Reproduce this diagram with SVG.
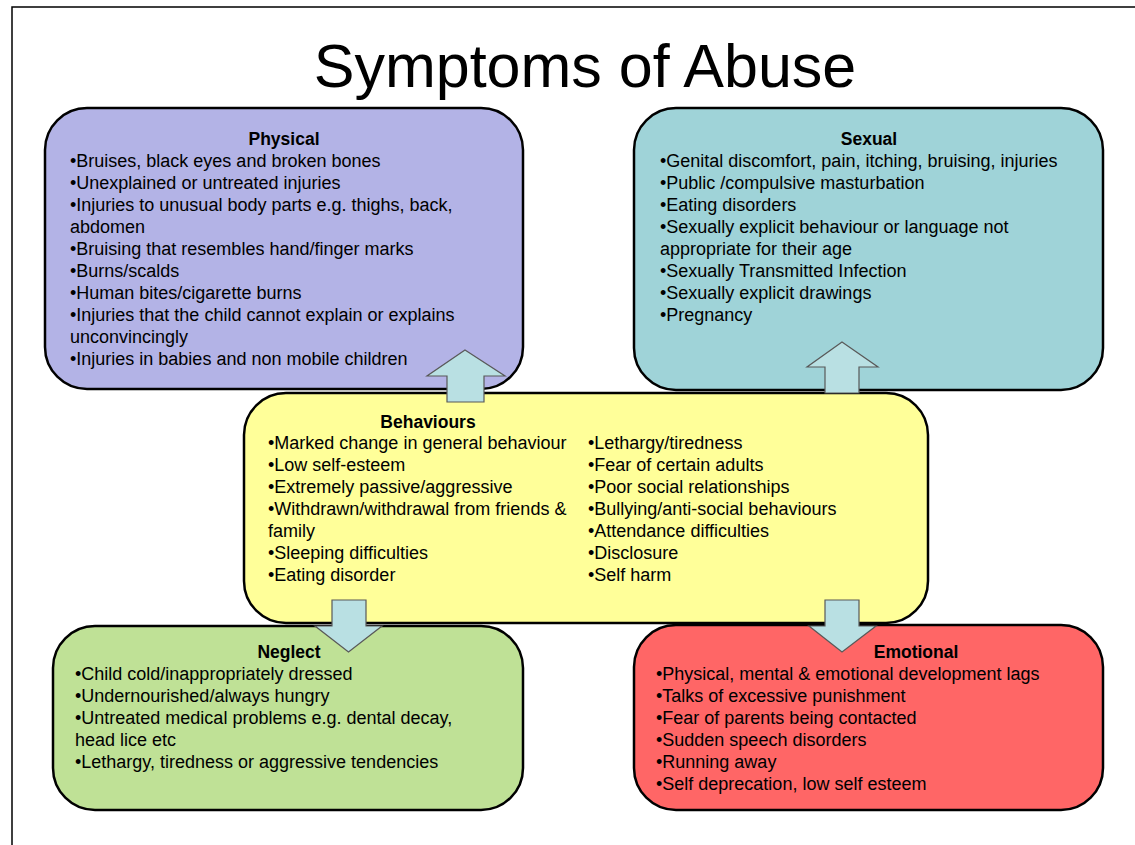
<svg xmlns="http://www.w3.org/2000/svg" width="1135" height="845" viewBox="0 0 1135 845">
<style>
.box{stroke:#000;stroke-width:2.5}
.t{font-family:"Liberation Sans",Arial,sans-serif;font-size:18px;fill:#000}
.h{font-family:"Liberation Sans",Arial,sans-serif;font-size:17.5px;font-weight:bold;fill:#000;text-anchor:middle}
.arr{fill:#B9E0E3;stroke:#595959;stroke-width:1.2}
</style>
<rect x="0" y="0" width="1135" height="845" fill="#fff"/>
<rect x="12" y="7" width="1140" height="860" fill="none" stroke="#000" stroke-width="1.5"/>
<text x="585" y="87" text-anchor="middle" font-family="Liberation Sans,Arial,sans-serif" font-size="61" fill="#000">Symptoms of Abuse</text>

<g id="physical">
<rect class="box" x="45" y="108" width="478" height="281" rx="42" fill="#B3B3E6"/>
<text class="h" x="284" y="145">Physical</text>
<text class="t" x="70" y="167">•Bruises, black eyes and broken bones</text>
<text class="t" x="70" y="189">•Unexplained or untreated injuries</text>
<text class="t" x="70" y="211">•Injuries to unusual body parts e.g. thighs, back,</text>
<text class="t" x="70" y="233">abdomen</text>
<text class="t" x="70" y="255">•Bruising that resembles hand/finger marks</text>
<text class="t" x="70" y="277">•Burns/scalds</text>
<text class="t" x="70" y="299">•Human bites/cigarette burns</text>
<text class="t" x="70" y="321">•Injuries that the child cannot explain or explains</text>
<text class="t" x="70" y="343">unconvincingly</text>
<text class="t" x="70" y="365">•Injuries in babies and non mobile children</text>
</g>

<g id="sexual">
<rect class="box" x="634" y="108" width="469" height="282" rx="42" fill="#9FD3D8"/>
<text class="h" x="869" y="145">Sexual</text>
<text class="t" x="660" y="167">•Genital discomfort, pain, itching, bruising, injuries</text>
<text class="t" x="660" y="189">•Public /compulsive masturbation</text>
<text class="t" x="660" y="211">•Eating disorders</text>
<text class="t" x="660" y="233">•Sexually explicit behaviour or language not</text>
<text class="t" x="660" y="255">appropriate for their age</text>
<text class="t" x="660" y="277">•Sexually Transmitted Infection</text>
<text class="t" x="660" y="299">•Sexually explicit drawings</text>
<text class="t" x="660" y="321">•Pregnancy</text>
</g>

<g id="behaviours">
<rect class="box" x="244" y="393" width="684" height="230" rx="42" fill="#FFFF99"/>
<text class="h" x="428" y="428">Behaviours</text>
<text class="t" x="268" y="449">•Marked change in general behaviour</text>
<text class="t" x="268" y="471">•Low self-esteem</text>
<text class="t" x="268" y="493">•Extremely passive/aggressive</text>
<text class="t" x="268" y="515">•Withdrawn/withdrawal from friends &amp;</text>
<text class="t" x="268" y="537">family</text>
<text class="t" x="268" y="559">•Sleeping difficulties</text>
<text class="t" x="268" y="581">•Eating disorder</text>
<text class="t" x="588" y="449">•Lethargy/tiredness</text>
<text class="t" x="588" y="471">•Fear of certain adults</text>
<text class="t" x="588" y="493">•Poor social relationships</text>
<text class="t" x="588" y="515">•Bullying/anti-social behaviours</text>
<text class="t" x="588" y="537">•Attendance difficulties</text>
<text class="t" x="588" y="559">•Disclosure</text>
<text class="t" x="588" y="581">•Self harm</text>
</g>

<g id="neglect">
<rect class="box" x="53" y="626" width="470" height="184" rx="42" fill="#BFE196"/>
<text class="h" x="289" y="658">Neglect</text>
<text class="t" x="75" y="680">•Child cold/inappropriately dressed</text>
<text class="t" x="75" y="702">•Undernourished/always hungry</text>
<text class="t" x="75" y="724">•Untreated medical problems e.g. dental decay,</text>
<text class="t" x="75" y="746">head lice etc</text>
<text class="t" x="75" y="768">•Lethargy, tiredness or aggressive tendencies</text>
</g>

<g id="emotional">
<rect class="box" x="634" y="625" width="469" height="185" rx="42" fill="#FF6666"/>
<text class="h" x="916" y="658">Emotional</text>
<text class="t" x="656" y="680">•Physical, mental &amp; emotional development lags</text>
<text class="t" x="656" y="702">•Talks of excessive punishment</text>
<text class="t" x="656" y="724">•Fear of parents being contacted</text>
<text class="t" x="656" y="746">•Sudden speech disorders</text>
<text class="t" x="656" y="768">•Running away</text>
<text class="t" x="656" y="790">•Self deprecation, low self esteem</text>
</g>

<g id="connectors">
<polygon class="arr" points="465,350 505,376 484,376 484,402 447,402 447,376 427,376"/>
<polygon class="arr" points="842,342 878,367 859,367 859,393 825,393 825,367 807,367"/>
<polygon class="arr" points="332,600 366,600 366,626 382,626 348.5,652 315,626 332,626"/>
<polygon class="arr" points="825,600 859,600 859,626 876,626 842,652 809,626 825,626"/>
</g>
</svg>
